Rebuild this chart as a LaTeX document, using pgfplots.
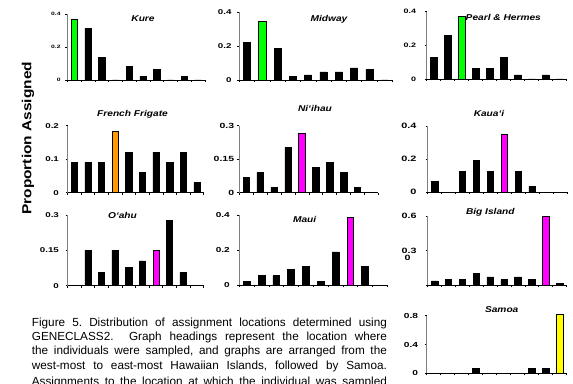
\documentclass[border=0pt]{standalone}
\usepackage{fontspec}
\setmainfont{Liberation Sans}
\usepackage{graphicx}
\usepackage{pgfplots}
\pgfplotsset{compat=1.18}
\frenchspacing
\definecolor{hgreen}{RGB}{0,255,0}
\definecolor{horange}{RGB}{255,153,0}
\definecolor{hmag}{RGB}{255,0,255}
\definecolor{hyel}{RGB}{255,255,0}
\definecolor{axgray}{RGB}{128,128,128}
\NewDocumentCommand\tk{O{7}m}{\scalebox{1.4}[1]{\fontsize{#1}{#1}\selectfont\bfseries #2}}
\NewDocumentCommand\ttl{m}{\scalebox{1.2}[1]{\fontsize{8.5}{8.5}\selectfont\bfseries\itshape #1}}
\NewDocumentCommand\capl{m}{\makebox[355bp][s]{\fontsize{11.8}{14}\selectfont #1}}
\pgfplotsset{
  panel/.style={
    scale only axis, clip=false, anchor=south west,
    xmin=0.5, xmax=10.5, ymin=0,
    axis x line*=bottom, axis y line*=left,
    x axis line style={black, line width=0.8bp},
    y axis line style={axgray, line width=0.8bp},
    xtick={0.5,1.5,...,10.5}, xticklabels={},
    tick align=outside, major tick length=2bp,
    every tick/.style={black, line width=0.5bp},
    yticklabel style={anchor=east, inner sep=0pt},
  },
  blk/.style={ybar, bar width=0.46, bar shift=0pt, fill=black, draw=black, line width=0.5bp},
  hl/.style={ybar, bar width=0.46, bar shift=0pt, fill=#1, draw=black, line width=0.5bp},
}
\begin{document}
\begin{tikzpicture}[x=1bp,y=1bp]
\useasboundingbox (0,0) rectangle (573,383);
\clip (0,0) rectangle (573,383);

% Kure
\begin{axis}[panel, at={(67.3bp,303bp)}, width=137.7bp, height=66bp, ymax=0.4,
  ytick={0,0.2,0.4}, yticklabels={\tk[4.8]{0},\tk[4.8]{0.2}\hspace{5.7bp},\tk[4.8]{0.4}\hspace{5.7bp}},
  yticklabel style={xshift=-4.6bp}]
\addplot[blk] coordinates {(2,0.315)(3,0.135)(4,0)(5,0.083)(6,0.024)(7,0.063)(8,0)(9,0.024)(10,0)};
\addplot[hl=hgreen] coordinates {(1,0.37)};
\end{axis}
% Midway
\begin{axis}[panel, at={(239.3bp,303bp)}, width=153bp, height=67.7bp, ymax=0.4,
  ytick={0,0.2,0.4}, yticklabels={\tk{0},\tk{0.2},\tk{0.4}},
  yticklabel style={xshift=-5.6bp}]
\addplot[blk] coordinates {(1,0.222)(3,0.187)(4,0.02)(5,0.03)(6,0.048)(7,0.048)(8,0.072)(9,0.062)(10,0)};
\addplot[hl=hgreen] coordinates {(2,0.348)};
\end{axis}
% Pearl & Hermes
\begin{axis}[panel, at={(426.7bp,304bp)}, width=140bp, height=67.3bp, ymax=0.4,
  ytick={0,0.2,0.4}, yticklabels={\tk[6.4]{0},\tk[6.4]{0.2},\tk[6.4]{0.4}},
  yticklabel style={xshift=-8.4bp}]
\addplot[blk] coordinates {(1,0.13)(2,0.26)(4,0.065)(5,0.065)(6,0.13)(7,0.024)(8,0)(9,0.024)(10,0)};
\addplot[hl=hgreen] coordinates {(3,0.37)};
\end{axis}
% French Frigate
\begin{axis}[panel, at={(67.5bp,190.3bp)}, width=136.2bp, height=67bp, ymax=0.2,
  ytick={0,0.1,0.2}, yticklabels={\tk{0},\tk{0.1},\tk{0.2}},
  yticklabel style={xshift=-6.4bp}]
\addplot[blk] coordinates {(1,0.091)(2,0.091)(3,0.091)(5,0.121)(6,0.061)(7,0.121)(8,0.091)(9,0.121)(10,0.030)};
\addplot[hl=horange] coordinates {(4,0.182)};
\end{axis}
% Ni'ihau
\begin{axis}[panel, at={(239.3bp,190.3bp)}, width=139bp, height=67bp, ymax=0.3,
  ytick={0,0.15,0.3}, yticklabels={\tk[7.5]{0}\hspace{3.6bp},\tk[7.5]{0.15},\tk[7.5]{0.3}},
  yticklabel style={xshift=-3bp}]
\addplot[blk] coordinates {(1,0.07)(2,0.091)(3,0.024)(4,0.203)(6,0.114)(7,0.136)(8,0.091)(9,0.024)(10,0)};
\addplot[hl=hmag] coordinates {(5,0.266)};
\end{axis}
% Kaua'i
\begin{axis}[panel, at={(427.7bp,190.7bp)}, width=139.3bp, height=66.3bp, ymax=0.4,
  ytick={0,0.2,0.4}, yticklabels={\tk[7.8]{0}\hspace{3.4bp},\tk[7.8]{0.2},\tk[7.8]{0.4}},
  yticklabel style={xshift=-9bp}]
\addplot[blk] coordinates {(1,0.066)(2,0)(3,0.127)(4,0.193)(5,0.127)(7,0.127)(8,0.034)(9,0)(10,0)};
\addplot[hl=hmag] coordinates {(6,0.35)};
\end{axis}
% O'ahu
\begin{axis}[panel, at={(67.5bp,97.3bp)}, width=136bp, height=70.7bp, ymax=0.3,
  ytick={0,0.15,0.3}, yticklabels={\tk{0},\tk{0.15},\tk{0.3}},
  yticklabel style={xshift=-6.4bp}]
\addplot[blk] coordinates {(1,0)(2,0.151)(3,0.055)(4,0.151)(5,0.078)(6,0.105)(8,0.277)(9,0.055)(10,0)};
\addplot[hl=hmag] coordinates {(7,0.15)};
\end{axis}
% Maui
\begin{axis}[panel, at={(239.3bp,98bp)}, width=148bp, height=70bp, ymax=0.4,
  ytick={0,0.2,0.4}, yticklabels={\tk[7.2]{0},\tk[7.2]{0.2},\tk[7.2]{0.4}},
  yticklabel style={xshift=-7.3bp}]
\addplot[blk] coordinates {(1,0.021)(2,0.053)(3,0.053)(4,0.088)(5,0.107)(6,0.021)(7,0.19)(9,0.107)(10,0)};
\addplot[hl=hmag] coordinates {(8,0.389)};
\end{axis}
% Big Island
\begin{axis}[panel, at={(427.6bp,98bp)}, width=138.9bp, height=69bp, ymax=0.6,
  ytick={0.3,0.6}, yticklabels={\tk[7.7]{0.3},\tk[7.7]{0.6}},
  yticklabel style={xshift=-8.9bp},
  extra y ticks={0}, extra y tick labels={\tk[7.7]{0}},
  extra y tick style={yticklabel style={xshift=-6bp, yshift=26.7bp}}]
\addplot[blk] coordinates {(1,0.035)(2,0.046)(3,0.046)(4,0.099)(5,0.07)(6,0.046)(7,0.07)(8,0.046)(10,0.017)};
\addplot[hl=hmag] coordinates {(9,0.6)};
\end{axis}
% Samoa
\begin{axis}[panel, at={(426.7bp,9.7bp)}, width=140bp, height=57.6bp, ymax=0.8,
  ytick={0,0.4,0.8}, yticklabels={\tk[7.3]{0}\hspace{1.6bp},\tk[7.3]{0.4},\tk[7.3]{0.8}},
  yticklabel style={xshift=-6.4bp}]
\addplot[blk] coordinates {(1,0)(2,0)(3,0)(4,0.069)(5,0)(6,0)(7,0)(8,0.069)(9,0.069)};
\addplot[hl=hyel] coordinates {(10,0.82)};
\end{axis}

% titles
\node[anchor=base] at (143,361.9) {\ttl{Kure}};
\node[anchor=base] at (329,361.9) {\ttl{Midway}};
\node[anchor=base] at (503.3,362.9) {\ttl{Pearl \& Hermes}};
\node[anchor=base] at (132.5,266.9) {\ttl{French Frigate}};
\node[anchor=base] at (315,271.9) {\ttl{Ni‘ihau}};
\node[anchor=base] at (489,266.9) {\ttl{Kaua‘i}};
\node[anchor=base] at (122.5,164.2) {\ttl{O‘ahu}};
\node[anchor=base] at (304.7,160.2) {\ttl{Maui}};
\node[anchor=base] at (490.3,168.6) {\ttl{Big Island}};
\node[anchor=base] at (501.7,70.2) {\ttl{Samoa}};

% y label
\node[rotate=90, inner sep=0pt] at (28,244.7) {\scalebox{1}[0.85]{\fontsize{15.5}{15.5}\selectfont\bfseries Proportion Assigned}};

% caption
\node[anchor=base west, inner sep=0pt] at (31.7,57) {\capl{Figure 5. Distribution of assignment locations determined using}};
\node[anchor=base west, inner sep=0pt] at (31.7,42.6) {\capl{GENECLASS2.\ \ Graph headings represent the location where}};
\node[anchor=base west, inner sep=0pt] at (31.7,28.2) {\capl{the individuals were sampled, and graphs are arranged from the}};
\node[anchor=base west, inner sep=0pt] at (31.7,13.8) {\capl{west-most to east-most Hawaiian Islands, followed by Samoa.}};
\node[anchor=base west, inner sep=0pt] at (31.7,-2.6) {\capl{Assignments to the location at which the individual was sampled}};
\end{tikzpicture}
\end{document}
